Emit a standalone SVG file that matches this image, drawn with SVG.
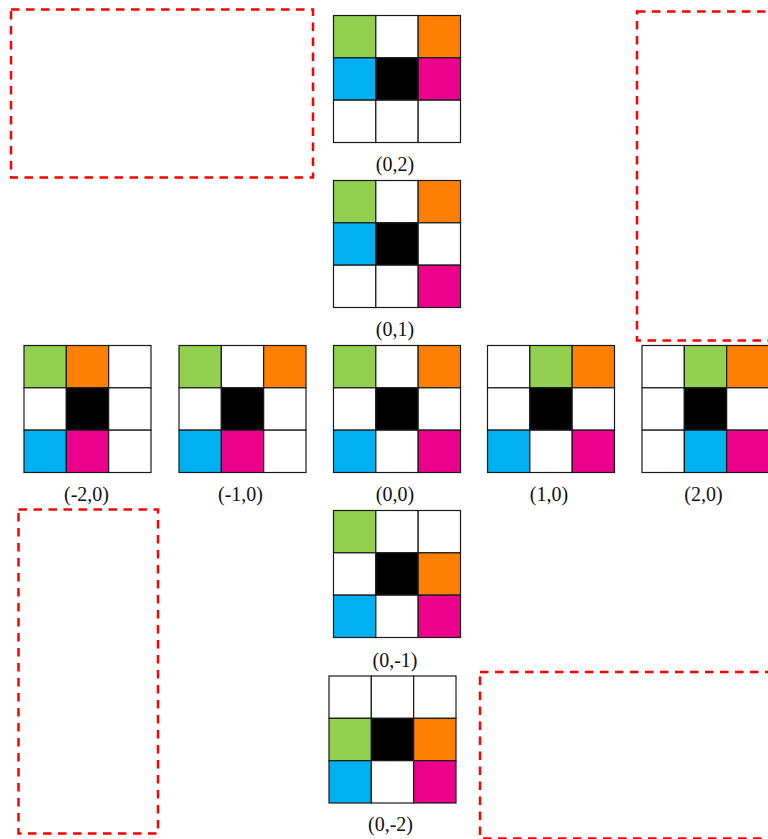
<svg xmlns="http://www.w3.org/2000/svg" width="768" height="839" viewBox="0 0 768 839">
<style>
.dash{fill:none;stroke:#ff0000;stroke-width:2.5;stroke-dasharray:8.5 6.5}
.c{stroke:#1a1a1a;stroke-width:1.2}
.W{fill:#ffffff}.G{fill:#92d050}.O{fill:#ff8000}.B{fill:#00b0f0}.M{fill:#ec008c}.K{fill:#000000}
.lbl{font-family:"Liberation Serif","Times New Roman",serif;font-size:20px;fill:#111;text-anchor:middle}
</style>
<g id="regions">
<rect class="dash" x="11" y="9.5" width="302" height="168"/>
<rect class="dash" x="637" y="11.5" width="160" height="329"/>
<rect class="dash" x="18.5" y="509.5" width="139.5" height="324"/>
<rect class="dash" x="480" y="672" width="320" height="166.5"/>
</g>
<g id="grid_0_2" transform="translate(333.5,15.5)">
<rect class="c G" x="0" y="0" width="42.33" height="42.33"/><rect class="c W" x="42.33" y="0" width="42.33" height="42.33"/><rect class="c O" x="84.67" y="0" width="42.33" height="42.33"/>
<rect class="c B" x="0" y="42.33" width="42.33" height="42.33"/><rect class="c K" x="42.33" y="42.33" width="42.33" height="42.33"/><rect class="c M" x="84.67" y="42.33" width="42.33" height="42.33"/>
<rect class="c W" x="0" y="84.67" width="42.33" height="42.33"/><rect class="c W" x="42.33" y="84.67" width="42.33" height="42.33"/><rect class="c W" x="84.67" y="84.67" width="42.33" height="42.33"/>
<text class="lbl" x="61.5" y="155">(0,2)</text>
</g>
<g id="grid_0_1" transform="translate(333.5,180.5)">
<rect class="c G" x="0" y="0" width="42.33" height="42.33"/><rect class="c W" x="42.33" y="0" width="42.33" height="42.33"/><rect class="c O" x="84.67" y="0" width="42.33" height="42.33"/>
<rect class="c B" x="0" y="42.33" width="42.33" height="42.33"/><rect class="c K" x="42.33" y="42.33" width="42.33" height="42.33"/><rect class="c W" x="84.67" y="42.33" width="42.33" height="42.33"/>
<rect class="c W" x="0" y="84.67" width="42.33" height="42.33"/><rect class="c W" x="42.33" y="84.67" width="42.33" height="42.33"/><rect class="c M" x="84.67" y="84.67" width="42.33" height="42.33"/>
<text class="lbl" x="61.5" y="155">(0,1)</text>
</g>
<g id="grid_m2_0" transform="translate(24,345.5)">
<rect class="c G" x="0" y="0" width="42.33" height="42.33"/><rect class="c O" x="42.33" y="0" width="42.33" height="42.33"/><rect class="c W" x="84.67" y="0" width="42.33" height="42.33"/>
<rect class="c W" x="0" y="42.33" width="42.33" height="42.33"/><rect class="c K" x="42.33" y="42.33" width="42.33" height="42.33"/><rect class="c W" x="84.67" y="42.33" width="42.33" height="42.33"/>
<rect class="c B" x="0" y="84.67" width="42.33" height="42.33"/><rect class="c M" x="42.33" y="84.67" width="42.33" height="42.33"/><rect class="c W" x="84.67" y="84.67" width="42.33" height="42.33"/>
<text class="lbl" x="62.5" y="155.5">(-2,0)</text>
</g>
<g id="grid_m1_0" transform="translate(179,345.5)">
<rect class="c G" x="0" y="0" width="42.33" height="42.33"/><rect class="c W" x="42.33" y="0" width="42.33" height="42.33"/><rect class="c O" x="84.67" y="0" width="42.33" height="42.33"/>
<rect class="c W" x="0" y="42.33" width="42.33" height="42.33"/><rect class="c K" x="42.33" y="42.33" width="42.33" height="42.33"/><rect class="c W" x="84.67" y="42.33" width="42.33" height="42.33"/>
<rect class="c B" x="0" y="84.67" width="42.33" height="42.33"/><rect class="c M" x="42.33" y="84.67" width="42.33" height="42.33"/><rect class="c W" x="84.67" y="84.67" width="42.33" height="42.33"/>
<text class="lbl" x="61.5" y="155.5">(-1,0)</text>
</g>
<g id="grid_0_0" transform="translate(333.5,345.5)">
<rect class="c G" x="0" y="0" width="42.33" height="42.33"/><rect class="c W" x="42.33" y="0" width="42.33" height="42.33"/><rect class="c O" x="84.67" y="0" width="42.33" height="42.33"/>
<rect class="c W" x="0" y="42.33" width="42.33" height="42.33"/><rect class="c K" x="42.33" y="42.33" width="42.33" height="42.33"/><rect class="c W" x="84.67" y="42.33" width="42.33" height="42.33"/>
<rect class="c B" x="0" y="84.67" width="42.33" height="42.33"/><rect class="c W" x="42.33" y="84.67" width="42.33" height="42.33"/><rect class="c M" x="84.67" y="84.67" width="42.33" height="42.33"/>
<text class="lbl" x="61.5" y="155.5">(0,0)</text>
</g>
<g id="grid_1_0" transform="translate(487.5,345.5)">
<rect class="c W" x="0" y="0" width="42.33" height="42.33"/><rect class="c G" x="42.33" y="0" width="42.33" height="42.33"/><rect class="c O" x="84.67" y="0" width="42.33" height="42.33"/>
<rect class="c W" x="0" y="42.33" width="42.33" height="42.33"/><rect class="c K" x="42.33" y="42.33" width="42.33" height="42.33"/><rect class="c W" x="84.67" y="42.33" width="42.33" height="42.33"/>
<rect class="c B" x="0" y="84.67" width="42.33" height="42.33"/><rect class="c W" x="42.33" y="84.67" width="42.33" height="42.33"/><rect class="c M" x="84.67" y="84.67" width="42.33" height="42.33"/>
<text class="lbl" x="61.5" y="155.5">(1,0)</text>
</g>
<g id="grid_2_0" transform="translate(642,345.5)">
<rect class="c W" x="0" y="0" width="42.33" height="42.33"/><rect class="c G" x="42.33" y="0" width="42.33" height="42.33"/><rect class="c O" x="84.67" y="0" width="42.33" height="42.33"/>
<rect class="c W" x="0" y="42.33" width="42.33" height="42.33"/><rect class="c K" x="42.33" y="42.33" width="42.33" height="42.33"/><rect class="c W" x="84.67" y="42.33" width="42.33" height="42.33"/>
<rect class="c W" x="0" y="84.67" width="42.33" height="42.33"/><rect class="c B" x="42.33" y="84.67" width="42.33" height="42.33"/><rect class="c M" x="84.67" y="84.67" width="42.33" height="42.33"/>
<text class="lbl" x="61.5" y="155.5">(2,0)</text>
</g>
<g id="grid_0_m1" transform="translate(333.5,510.5)">
<rect class="c G" x="0" y="0" width="42.33" height="42.33"/><rect class="c W" x="42.33" y="0" width="42.33" height="42.33"/><rect class="c W" x="84.67" y="0" width="42.33" height="42.33"/>
<rect class="c W" x="0" y="42.33" width="42.33" height="42.33"/><rect class="c K" x="42.33" y="42.33" width="42.33" height="42.33"/><rect class="c O" x="84.67" y="42.33" width="42.33" height="42.33"/>
<rect class="c B" x="0" y="84.67" width="42.33" height="42.33"/><rect class="c W" x="42.33" y="84.67" width="42.33" height="42.33"/><rect class="c M" x="84.67" y="84.67" width="42.33" height="42.33"/>
<text class="lbl" x="61.5" y="156">(0,-1)</text>
</g>
<g id="grid_0_m2" transform="translate(329,676)">
<rect class="c W" x="0" y="0" width="42.33" height="42.33"/><rect class="c W" x="42.33" y="0" width="42.33" height="42.33"/><rect class="c W" x="84.67" y="0" width="42.33" height="42.33"/>
<rect class="c G" x="0" y="42.33" width="42.33" height="42.33"/><rect class="c K" x="42.33" y="42.33" width="42.33" height="42.33"/><rect class="c O" x="84.67" y="42.33" width="42.33" height="42.33"/>
<rect class="c B" x="0" y="84.67" width="42.33" height="42.33"/><rect class="c W" x="42.33" y="84.67" width="42.33" height="42.33"/><rect class="c M" x="84.67" y="84.67" width="42.33" height="42.33"/>
<text class="lbl" x="61.5" y="154.5">(0,-2)</text>
</g>
<g id="connectors"/>
</svg>
